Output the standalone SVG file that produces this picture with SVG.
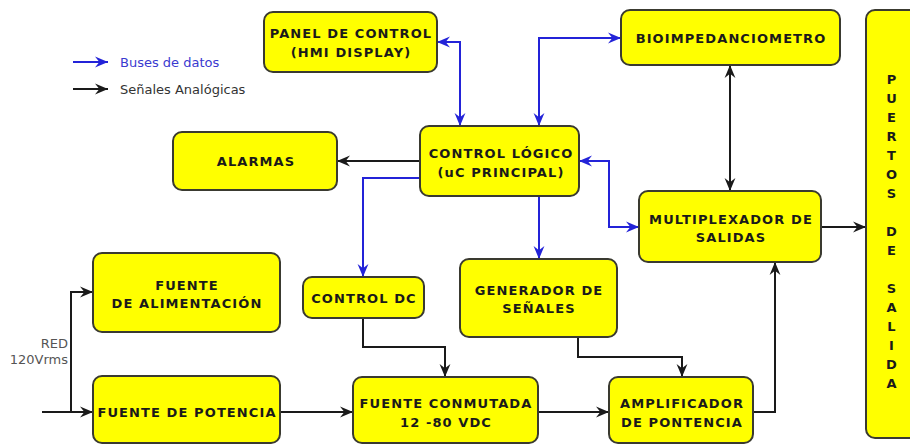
<svg xmlns="http://www.w3.org/2000/svg" width="910" height="445" viewBox="0 0 910 445">
<style>
.box{fill:#ffff00;stroke:#3a3a30;stroke-width:2}
.t{font-family:"DejaVu Sans",sans-serif;font-weight:bold;font-size:13px;fill:#1a1a1a;text-anchor:middle;letter-spacing:1.1px}
.blue{fill:none;stroke:#2323d8;stroke-width:2}
.blk{fill:none;stroke:#1a1a1a;stroke-width:2}
.leg{font-family:"DejaVu Sans",sans-serif;font-size:13px}
</style>
<defs>
<marker id="ab" viewBox="0 0 12 12" refX="12" refY="6" markerWidth="13" markerHeight="13" markerUnits="userSpaceOnUse" orient="auto-start-reverse">
<path d="M0,1 L12,6 L0,11 L4,6 z" fill="#2323d8"/>
</marker>
<marker id="ak" viewBox="0 0 12 12" refX="12" refY="6" markerWidth="13" markerHeight="13" markerUnits="userSpaceOnUse" orient="auto-start-reverse">
<path d="M0,1 L12,6 L0,11 L4,6 z" fill="#1a1a1a"/>
</marker>
</defs>
<rect width="910" height="445" fill="#ffffff"/>

<g id="legend">
<path class="blue" d="M73,62 H108" marker-end="url(#ab)"/>
<text class="leg" x="120" y="67" fill="#3a3ad0">Buses de datos</text>
<path class="blk" d="M73,89 H108" marker-end="url(#ak)"/>
<text class="leg" x="120" y="94" fill="#333333">Señales Analógicas</text>
</g>

<g id="connectors">
<path class="blue" d="M437,42 H460 V126" marker-start="url(#ab)" marker-end="url(#ab)"/>
<path class="blue" d="M539,126 V38 H621" marker-start="url(#ab)" marker-end="url(#ab)"/>
<path class="blue" d="M579,161 H609 V227 H639" marker-start="url(#ab)" marker-end="url(#ab)"/>
<path class="blue" d="M420,178 H363 V277" marker-end="url(#ab)"/>
<path class="blue" d="M539,196 V259" marker-end="url(#ab)"/>
<path class="blk" d="M420,161 H337" marker-end="url(#ak)"/>
<path class="blk" d="M730,65 V191" marker-start="url(#ak)" marker-end="url(#ak)"/>
<path class="blk" d="M821,227 H866" marker-end="url(#ak)"/>
<path class="blk" d="M42,412 H93" marker-end="url(#ak)"/>
<path class="blk" d="M71,412 V292 H93" marker-end="url(#ak)"/>
<path class="blk" d="M280,412 H353" marker-end="url(#ak)"/>
<path class="blk" d="M363,318 V347 H445 V377" marker-end="url(#ak)"/>
<path class="blk" d="M578,337 V357 H682 V377" marker-end="url(#ak)"/>
<path class="blk" d="M538,412 H609" marker-end="url(#ak)"/>
<path class="blk" d="M753,412 H775 V262" marker-end="url(#ak)"/>
<text class="leg" x="68" y="348" fill="#555555" text-anchor="end" font-size="12.5">RED</text>
<text class="leg" x="68" y="364" fill="#555555" text-anchor="end" font-size="12.5">120Vrms</text>
</g>

<g id="panel">
<rect class="box" x="264" y="12" width="173" height="60" rx="9"/>
<text class="t" x="351" y="38">PANEL DE CONTROL</text>
<text class="t" x="351" y="57">(HMI DISPLAY)</text>
</g>

<g id="bio">
<rect class="box" x="621" y="10" width="219" height="55" rx="9"/>
<text class="t" x="731" y="43">BIOIMPEDANCIOMETRO</text>
</g>

<g id="puertos">
<rect class="box" x="866" y="10" width="60" height="428" rx="9"/>
<text class="t" x="892" y="84">P</text>
<text class="t" x="892" y="103">U</text>
<text class="t" x="892" y="122">E</text>
<text class="t" x="892" y="141">R</text>
<text class="t" x="892" y="160">T</text>
<text class="t" x="892" y="179">O</text>
<text class="t" x="892" y="198">S</text>
<text class="t" x="892" y="236">D</text>
<text class="t" x="892" y="255">E</text>
<text class="t" x="892" y="293">S</text>
<text class="t" x="892" y="312">A</text>
<text class="t" x="892" y="331">L</text>
<text class="t" x="892" y="350">I</text>
<text class="t" x="892" y="369">D</text>
<text class="t" x="892" y="388">A</text>
</g>

<g id="alarmas">
<rect class="box" x="173" y="132" width="164" height="58" rx="9"/>
<text class="t" x="256" y="166">ALARMAS</text>
</g>

<g id="control-logico">
<rect class="box" x="420" y="126" width="159" height="70" rx="9"/>
<text class="t" x="501" y="158">CONTROL LÓGICO</text>
<text class="t" x="501" y="177">(uC PRINCIPAL)</text>
</g>

<g id="mux">
<rect class="box" x="639" y="191" width="182" height="71" rx="9"/>
<text class="t" x="731" y="224">MULTIPLEXADOR DE</text>
<text class="t" x="731" y="242">SALIDAS</text>
</g>

<g id="fuente-alim">
<rect class="box" x="93" y="253" width="187" height="79" rx="9"/>
<text class="t" x="187" y="290">FUENTE</text>
<text class="t" x="187" y="308">DE ALIMENTACIÓN</text>
</g>

<g id="control-dc">
<rect class="box" x="303" y="277" width="121" height="41" rx="9"/>
<text class="t" x="364" y="303">CONTROL DC</text>
</g>

<g id="generador">
<rect class="box" x="460" y="259" width="157" height="78" rx="9"/>
<text class="t" x="539" y="295">GENERADOR DE</text>
<text class="t" x="539" y="313">SEÑALES</text>
</g>

<g id="fuente-pot">
<rect class="box" x="93" y="376" width="187" height="67" rx="9"/>
<text class="t" x="187" y="417">FUENTE DE POTENCIA</text>
</g>

<g id="fuente-conm">
<rect class="box" x="353" y="377" width="185" height="66" rx="9"/>
<text class="t" x="446" y="408">FUENTE CONMUTADA</text>
<text class="t" x="446" y="427">12 -80 VDC</text>
</g>

<g id="amplificador">
<rect class="box" x="609" y="377" width="144" height="66" rx="9"/>
<text class="t" x="682" y="408">AMPLIFICADOR</text>
<text class="t" x="682" y="427">DE PONTENCIA</text>
</g>
</svg>
